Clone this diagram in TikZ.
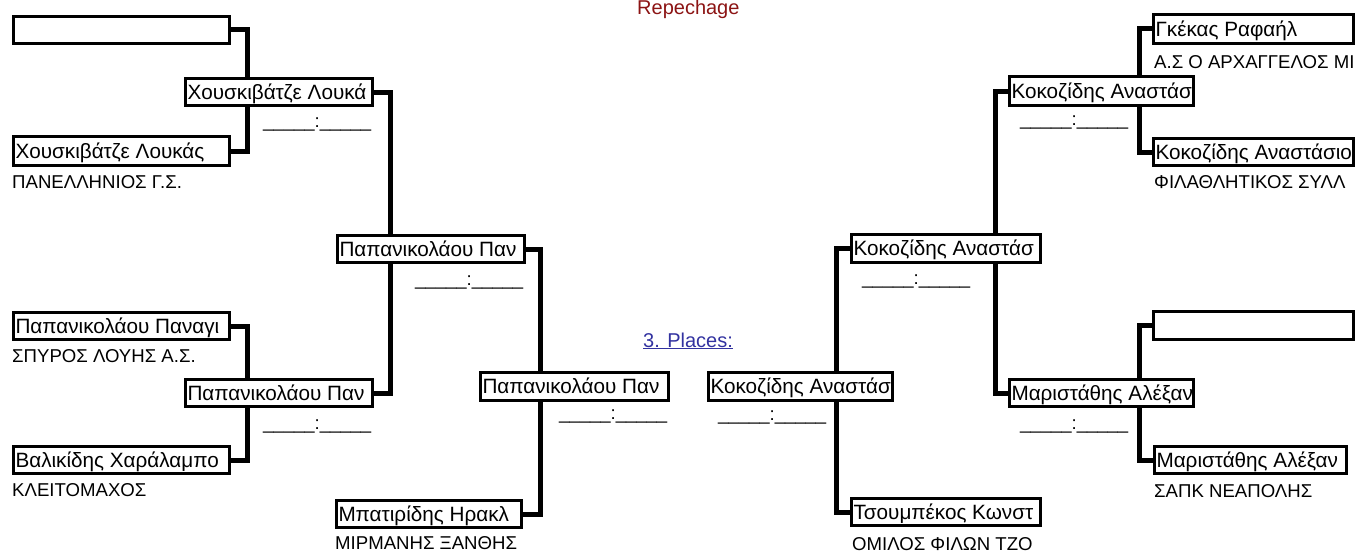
\documentclass[tikz,border=0pt]{standalone}
\usepackage{fontspec}
\setmainfont{Liberation Sans}
\definecolor{repred}{RGB}{140,20,20}
\definecolor{linkblue}{RGB}{50,50,160}
\tikzset{
  pbox/.style={draw=black, fill=white, line width=3pt, inner sep=0pt,
     text height=14.9pt, text depth=0pt, font=\fontsize{20.7}{25}\selectfont},
  conn/.style={draw=black, line width=5pt, line join=miter},
  club/.style={anchor=base west, inner sep=0pt, font=\fontsize{18.6}{22}\selectfont},
  score/.style={anchor=base west, inner sep=0pt, font=\fontsize{18.5}{22}\selectfont},
}
\newcommand\pbox[6]{%
  \node[pbox, anchor=west, minimum height={#5-#3-3}] (#1) at (#2,{(#3+#5)/2})
    {\makebox[\dimexpr #4pt-#2pt-3pt\relax][l]{\hspace{2pt}#6}};}
\begin{document}
\begin{tikzpicture}[x=1pt,y=-1pt]
\useasboundingbox (0,0) rectangle (1357,551);
% vertical guide coordinates
\coordinate (vL1) at (247.5,0);
\coordinate (vL2) at (390.5,0);
\coordinate (vL3) at (540,0);
\coordinate (vR3) at (836.5,0);
\coordinate (vR2) at (995.5,0);
\coordinate (vR1) at (1139,0);
% boxes
\pbox{L1}{12}{15}{231}{45}{}
\pbox{L2}{12}{135}{231}{167}{Χουσκιβάτζε Λουκάς}
\pbox{R1a}{184}{77}{374}{107}{Χουσκιβάτζε Λουκά}
\pbox{L3}{12}{311}{231}{341}{Παπανικολάου Παναγι}
\pbox{L4}{12}{445}{231}{475}{Βαλικίδης Χαράλαμπο}
\pbox{R1b}{184}{378}{374}{408}{Παπανικολάου Παν}
\pbox{R2a}{336}{234}{526}{264}{Παπανικολάου Παν}
\pbox{Mb}{335}{499}{523}{529}{Μπατιρίδης Ηρακλ}
\pbox{SFa}{479}{371}{670}{402}{Παπανικολάου Παν}
\pbox{SFb}{707}{371}{894}{402}{Κοκοζίδης Αναστάσ}
\pbox{R2b}{850}{233}{1042}{264}{Κοκοζίδης Αναστάσ}
\pbox{Ts}{850}{497}{1042}{527}{Τσουμπέκος Κωνστ}
\pbox{Q1}{1008}{75}{1195}{107}{Κοκοζίδης Αναστάσ}
\pbox{Q2}{1008}{378}{1195}{408}{Μαριστάθης Αλέξαν}
\pbox{R3}{1152}{13}{1355}{45}{Γκέκας Ραφαήλ}
\pbox{R4}{1152}{137}{1355}{167}{Κοκοζίδης Αναστάσιο}
\pbox{R5}{1152}{310}{1355}{341}{}
\pbox{R6}{1153}{445}{1348}{475}{Μαριστάθης Αλέξαν}
% connectors left
\draw[conn] (L1.east) -| (vL1 |- R1a.north);
\draw[conn] (L2.east) -| (vL1 |- R1a.south);
\draw[conn] (L3.east) -| (vL1 |- R1b.north);
\draw[conn] (L4.east) -| (vL1 |- R1b.south);
\draw[conn] (R1a.east) -| (vL2 |- R2a.north);
\draw[conn] (R1b.east) -| (vL2 |- R2a.south);
\draw[conn] (R2a.east) -| (vL3 |- SFa.north);
\draw[conn] (Mb.east) -| (vL3 |- SFa.south);
% connectors right
\draw[conn] (R3.west) -| (vR1 |- Q1.north);
\draw[conn] (R4.west) -| (vR1 |- Q1.south);
\draw[conn] (R5.west) -| (vR1 |- Q2.north);
\draw[conn] (R6.west) -| (vR1 |- Q2.south);
\draw[conn] (Q1.west) -| (vR2 |- R2b.north);
\draw[conn] (Q2.west) -| (vR2 |- R2b.south);
\draw[conn] (R2b.west) -| (vR3 |- SFb.north);
\draw[conn] (Ts.west) -| (vR3 |- SFb.south);
% clubs
\node[club] (c1) at (12,188) {ΠΑΝΕΛΛΗΝΙΟΣ Γ.Σ.};
\node[club] (c2) at (12,362) {ΣΠΥΡΟΣ ΛΟΥΗΣ Α.Σ.};
\node[club] (c3) at (12,496) {ΚΛΕΙΤΟΜΑΧΟΣ};
\node[club] (c4) at (335,549.5) {ΜΙΡΜΑΝΗΣ ΞΑΝΘΗΣ};
\node[club] (c5) at (852,550.5) {ΟΜΙΛΟΣ ΦΙΛΩΝ ΤΖΟ};
\node[club] (c6) at (1154,68) {Α.Σ Ο ΑΡΧΑΓΓΕΛΟΣ ΜΙ};
\node[club] (c7) at (1154,188) {ΦΙΛΑΘΛΗΤΙΚΟΣ ΣΥΛΛ};
\node[club] (c8) at (1154,497) {ΣΑΠΚ ΝΕΑΠΟΛΗΣ};
% scores
\node[score] (s1) at (263,127) {\_\_\_\_\_:\_\_\_\_\_};
\node[score] (s2) at (415,285) {\_\_\_\_\_:\_\_\_\_\_};
\node[score] (s3) at (263,429) {\_\_\_\_\_:\_\_\_\_\_};
\node[score] (s4) at (559,419) {\_\_\_\_\_:\_\_\_\_\_};
\node[score] (s5) at (718,420) {\_\_\_\_\_:\_\_\_\_\_};
\node[score] (s6) at (862,284) {\_\_\_\_\_:\_\_\_\_\_};
\node[score] (s7) at (1020,125) {\_\_\_\_\_:\_\_\_\_\_};
\node[score] (s8) at (1020,429) {\_\_\_\_\_:\_\_\_\_\_};
% titles
\node[anchor=base west, inner sep=0pt, text=repred, font=\fontsize{20}{24}\selectfont] (rep) at (637,15) {Repechage};
\node[anchor=base west, inner sep=0pt, text=linkblue, font=\fontsize{20}{24}\selectfont] (pl) at (643,347) {\underline{3. Places:}};
\end{tikzpicture}
\end{document}
